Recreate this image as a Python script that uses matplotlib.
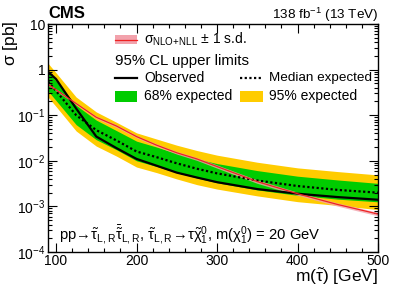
import math
import matplotlib
matplotlib.use("Agg")
import matplotlib.pyplot as plt
from matplotlib.patches import Rectangle
from matplotlib.lines import Line2D
from matplotlib.ticker import FixedLocator, LogLocator, FuncFormatter, NullFormatter

plt.rcParams["font.family"] = ["Liberation Sans", "DejaVu Sans"]
plt.rcParams["mathtext.fontset"] = "custom"
plt.rcParams["mathtext.rm"] = "Liberation Sans"
plt.rcParams["mathtext.it"] = "Liberation Sans"
plt.rcParams["mathtext.bf"] = "Liberation Sans:bold"

# stau mass points [GeV] and cross sections [pb]
mass = [90, 100, 125, 150, 175, 200, 225, 250, 275, 300, 350, 400, 450, 500]
observed = [0.90, 0.62, 0.14, 0.034, 0.019, 0.011, 0.0078, 0.0055, 0.0043,
            0.0034, 0.0024, 0.0019, 0.0016, 0.0014]
expected = [0.55, 0.34, 0.10, 0.047, 0.028, 0.016, 0.012, 0.0088, 0.0067,
            0.0053, 0.0037, 0.0028, 0.0023, 0.0020]
exp_m1 = [0.34, 0.21, 0.062, 0.029, 0.0175, 0.0100, 0.0075, 0.0055, 0.0042,
          0.0033, 0.0023, 0.00175, 0.00144, 0.00126]
exp_p1 = [0.91, 0.56, 0.165, 0.078, 0.046, 0.027, 0.020, 0.0145, 0.011,
          0.0087, 0.0061, 0.0046, 0.0038, 0.0032]
exp_m2 = [0.25, 0.155, 0.045, 0.021, 0.0127, 0.0073, 0.0055, 0.0040, 0.0030,
          0.0024, 0.0017, 0.00127, 0.00105, 0.00085]
exp_p2 = [1.38, 0.85, 0.25, 0.118, 0.070, 0.041, 0.030, 0.022, 0.0168,
          0.0133, 0.0093, 0.0070, 0.0058, 0.0049]
theory = [0.48, 0.36, 0.18, 0.090, 0.058, 0.034, 0.022, 0.015, 0.011,
          0.0075, 0.0035, 0.0019, 0.0011, 0.00068]
theory_dn = [0.45, 0.34, 0.17, 0.084, 0.054, 0.032, 0.0205, 0.014, 0.0102,
             0.0069, 0.0032, 0.00175, 0.00101, 0.00062]
theory_up = [0.51, 0.38, 0.19, 0.096, 0.062, 0.036, 0.0235, 0.016, 0.0118,
             0.0081, 0.0038, 0.00205, 0.00119, 0.00074]

green = "#00cc00"
yellow = "#ffcc00"
pink = "#f2a2ac"
red = "#ee2222"

fig = plt.figure(figsize=(3.99, 2.87), dpi=100)
ax = fig.add_axes([48 / 399, 35 / 287, 330 / 399, 228 / 287])

ax.fill_between(mass, exp_m2, exp_p2, color=yellow, lw=0)
ax.fill_between(mass, exp_m1, exp_p1, color=green, lw=0)
ax.fill_between(mass, theory_dn, theory_up, color=pink, lw=0, alpha=0.8)
ax.plot(mass, expected, color="black", lw=1.6, ls=(0, (1, 1.1)))
ax.plot(mass, observed, color="black", lw=1.6)
ax.plot(mass, theory, color=red, lw=0.9)

ax.set_yscale("log")
ax.set_xlim(90, 500)
ax.set_ylim(1e-4, 10)

def ylab(v, pos):
    if abs(v - 1) < 1e-9:
        return "1"
    if abs(v - 10) < 1e-9:
        return "10"
    return r"$10^{%d}$" % round(math.log10(v))

ax.yaxis.set_major_locator(LogLocator(base=10, numticks=10))
ax.yaxis.set_minor_locator(LogLocator(base=10, subs=range(2, 10), numticks=20))
ax.yaxis.set_major_formatter(FuncFormatter(ylab))
ax.yaxis.set_minor_formatter(NullFormatter())
ax.xaxis.set_major_locator(FixedLocator([100, 200, 300, 400, 500]))
ax.xaxis.set_minor_locator(FixedLocator(range(100, 501, 20)))

ax.tick_params(which="both", direction="in", top=True, right=True,
               labelsize=10, width=0.8)
ax.tick_params(which="major", length=6.5)
ax.tick_params(which="minor", length=3)
ax.tick_params(axis="y", pad=2)
ax.tick_params(axis="x", pad=1.5)
for s in ax.spines.values():
    s.set_linewidth(1.0)

# legend, drawn by hand in axes coordinates
fs = 10
tr = ax.transAxes
ax.add_patch(Rectangle((0.203, 0.913), 0.067, 0.04, transform=tr,
                       facecolor=pink, lw=0))
ax.add_line(Line2D([0.203, 0.270], [0.930, 0.930], transform=tr, color=red, lw=0.9))
ax.text(0.291, 0.932, r"$\sigma_{\rm NLO\!+\!NLL}$ $\pm$ 1 s.d.", transform=tr,
        fontsize=fs, va="center")
ax.text(0.203, 0.838, "95% CL upper limits", transform=tr, fontsize=10.8, va="center")
ax.add_line(Line2D([0.203, 0.270], [0.764, 0.764], transform=tr, color="black", lw=1.6))
ax.text(0.291, 0.764, "Observed", transform=tr, fontsize=fs, va="center")
ax.add_line(Line2D([0.582, 0.651], [0.764, 0.764], transform=tr, color="black",
                   lw=1.6, ls=(0, (1, 1.1))))
ax.text(0.671, 0.764, "Median expected", transform=tr, fontsize=9.7, va="center")
ax.add_patch(Rectangle((0.203, 0.659), 0.067, 0.048, transform=tr,
                       facecolor=green, lw=0))
ax.text(0.291, 0.683, "68% expected", transform=tr, fontsize=fs, va="center")
ax.add_patch(Rectangle((0.582, 0.659), 0.069, 0.048, transform=tr,
                       facecolor=yellow, lw=0))
ax.text(0.671, 0.683, "95% expected", transform=tr, fontsize=fs, va="center")

ax.text(0.034, 0.053,
        r"pp$\!\rightarrow\!\tilde{\tau}_{\rm L,R}\bar{\tilde{\tau}}_{\rm L,R}$, "
        r"$\tilde{\tau}_{\rm L,R}\!\rightarrow\!\tau\tilde{\chi}_1^0$, m($\chi_1^0$) = 20 GeV",
        transform=tr, fontsize=10.6, va="baseline")

fig.text(48 / 399, 1 - 18.5 / 287, "CMS", fontsize=12, fontweight="bold",
         ha="left", va="baseline")
fig.text(378 / 399, 1 - 18.5 / 287, r"138 fb$^{-1}$ (13 TeV)", fontsize=9.7,
         ha="right", va="baseline")
fig.text(10.5 / 399, 1 - 21 / 287, r"$\sigma$ [pb]", fontsize=12.5,
         rotation=90, ha="center", va="top")
fig.text(378 / 399, 1 - 282 / 287, r"m($\tilde{\tau}$) [GeV]", fontsize=12.5,
         ha="right", va="baseline")

fig.savefig("out.png", dpi=100)
